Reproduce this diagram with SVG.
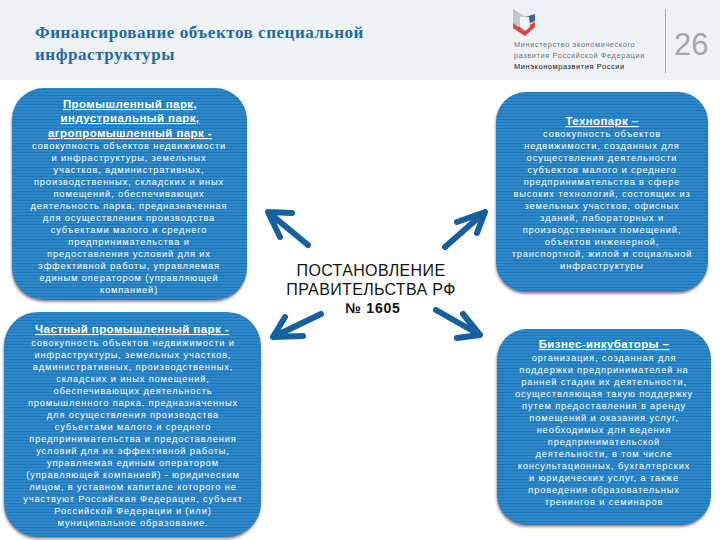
<svg xmlns="http://www.w3.org/2000/svg" width="720" height="540" viewBox="0 0 720 540">
<style>
text{font-family:"Liberation Sans","Noto Sans",sans-serif}
.title{font-family:"Liberation Serif","DejaVu Serif",serif;font-weight:700;font-size:17px;fill:#1f6aa3;letter-spacing:.55px}
.b{font-size:9.3px;fill:#fff;text-anchor:middle;letter-spacing:.85px}
.h{font-size:11.5px;font-weight:700;fill:#fff;text-anchor:middle;text-decoration:underline;letter-spacing:.4px}
.box{fill:url(#stripes);filter:url(#sh)}
.min{font-size:7.4px;fill:#6f7478;letter-spacing:.6px}
.c{font-size:16px;fill:#111;text-anchor:middle;letter-spacing:.35px}
.arr{fill:none;stroke:#15609f;stroke-width:6;stroke-linecap:round;stroke-linejoin:round}
</style>
<defs>
<pattern id="stripes" width="4" height="3" patternUnits="userSpaceOnUse">
<rect width="4" height="3" fill="#2b88cb"/>
<rect y="2" width="4" height="1" fill="#2476b6"/>
</pattern>
<filter id="sh" x="-5%" y="-5%" width="110%" height="112%">
<feDropShadow dx="-0.5" dy="2" stdDeviation="1.2" flood-color="#8a7078" flood-opacity=".8"/>
</filter>
</defs>
<rect width="720" height="540" fill="#fff"/>
<g id="header">
<rect width="720" height="80" fill="#eef2f5"/>
<text class="title" x="35" y="38">Финансирование объектов специальной</text>
<text class="title" x="35" y="60">инфраструктуры</text>
<path d="M513 9L526 17L535 14V27L525 36L513 28Z" fill="#c4c8cb"/>
<path d="M522 18L535 14V21L524 25Z" fill="#3a63a8"/>
<path d="M513 23L518 27L532 24L535 22V27L525 36L513 28Z" fill="#d9473f"/>
<path d="M520 17L529 17L530 27L525 31L520 27Z" fill="#f3f5f6"/>
<text class="min" x="514" y="47">Министерство экономического</text>
<text class="min" x="514" y="58">развития Российской Федерации</text>
<text class="min" x="514" y="69" style="fill:#111">Минэкономразвития России</text>
<rect x="665" y="9" width="1" height="64" fill="#a9adb0"/>
<text x="674" y="55" style="font-size:31px;fill:#a3a7aa">26</text>
</g>
<g id="connectors">
<path class="arr" d="M308 245L268 212M292 213L268 212L280 237"/>
<path class="arr" d="M445 247L485 212M457 222L485 212L477 233"/>
<path class="arr" d="M321 314L273 337M285 317L273 337L303 336"/>
<path class="arr" d="M436 310L480 335M463 314L480 335L457 338"/>
</g>
<g id="node-center">
<text class="c" x="371" y="276">ПОСТАНОВЛЕНИЕ</text>
<text class="c" x="371" y="295">ПРАВИТЕЛЬСТВА РФ</text>
<text class="c" x="373" y="313" style="font-size:14px;font-weight:700;letter-spacing:.8px">№ 1605</text>
</g>
<g id="node-industrial">
<rect class="box" x="12" y="88" width="235" height="212" rx="32"/>
<text class="h" x="130" y="108">Промышленный парк,</text>
<text class="h" x="130" y="122">индустриальный парк,</text>
<text class="h" x="130" y="137">агропромышленный парк -</text>
<text class="b" x="129" y="149">совокупность объектов недвижимости</text>
<text class="b" x="129" y="161">и инфраструктуры, земельных</text>
<text class="b" x="129" y="173">участков, административных,</text>
<text class="b" x="129" y="185">производственных, складских и иных</text>
<text class="b" x="129" y="197">помещений, обеспечивающих</text>
<text class="b" x="129" y="209">деятельность парка, предназначенная</text>
<text class="b" x="129" y="221">для осуществления производства</text>
<text class="b" x="129" y="233">субъектами малого и среднего</text>
<text class="b" x="129" y="245">предпринимательства и</text>
<text class="b" x="129" y="257">предоставления условий для их</text>
<text class="b" x="129" y="269">эффективной работы, управляемая</text>
<text class="b" x="129" y="281">единым оператором (управляющей</text>
<text class="b" x="129" y="293">компанией)</text>
</g>
<g id="node-private">
<rect class="box" x="4" y="312" width="257" height="225" rx="34"/>
<text class="h" x="132" y="333">Частный промышленный парк -</text>
<text class="b" x="133" y="346">совокупность объектов недвижимости и</text>
<text class="b" x="133" y="358">инфраструктуры, земельных участков,</text>
<text class="b" x="133" y="370">административных, производственных,</text>
<text class="b" x="133" y="382">складских и иных помещений,</text>
<text class="b" x="133" y="394">обеспечивающих деятельность</text>
<text class="b" x="133" y="406">промышленного парка, предназначенных</text>
<text class="b" x="133" y="418">для осуществления производства</text>
<text class="b" x="133" y="430">субъектами малого и среднего</text>
<text class="b" x="133" y="442">предпринимательства и предоставления</text>
<text class="b" x="133" y="454">условий для их эффективной работы,</text>
<text class="b" x="133" y="466">управляемая единым оператором</text>
<text class="b" x="133" y="478">(управляющей компанией) - юридическим</text>
<text class="b" x="133" y="490">лицом, в уставном капитале которого не</text>
<text class="b" x="133" y="502">участвуют Российская Федерация, субъект</text>
<text class="b" x="133" y="514">Российской Федерации и (или)</text>
<text class="b" x="133" y="526">муниципальное образование.</text>
</g>
<g id="node-technopark">
<rect class="box" x="496" y="92" width="212" height="200" rx="30"/>
<text class="h" x="602" y="125">Технопарк –</text>
<text class="b" x="602" y="137">совокупность объектов</text>
<text class="b" x="602" y="149">недвижимости, созданных для</text>
<text class="b" x="602" y="161">осуществления деятельности</text>
<text class="b" x="602" y="173">субъектов малого и среднего</text>
<text class="b" x="602" y="185">предпринимательства в сфере</text>
<text class="b" x="602" y="197">высоких технологий, состоящих из</text>
<text class="b" x="602" y="209">земельных участков, офисных</text>
<text class="b" x="602" y="221">зданий, лабораторных и</text>
<text class="b" x="602" y="233">производственных помещений,</text>
<text class="b" x="602" y="245">объектов инженерной,</text>
<text class="b" x="602" y="257">транспортной, жилой и социальной</text>
<text class="b" x="602" y="269">инфраструктуры</text>
</g>
<g id="node-incubator">
<rect class="box" x="497" y="329" width="214" height="196" rx="30"/>
<text class="h" x="604" y="348">Бизнес-инкубаторы –</text>
<text class="b" x="604" y="361">организация, созданная для</text>
<text class="b" x="604" y="373">поддержки предпринимателей на</text>
<text class="b" x="604" y="385">ранней стадии их деятельности,</text>
<text class="b" x="604" y="397">осуществляющая такую поддержку</text>
<text class="b" x="604" y="409">путем предоставления в аренду</text>
<text class="b" x="604" y="421">помещений и оказания услуг,</text>
<text class="b" x="604" y="433">необходимых для ведения</text>
<text class="b" x="604" y="445">предпринимательской</text>
<text class="b" x="604" y="457">деятельности, в том числе</text>
<text class="b" x="604" y="469">консультационных, бухгалтерских</text>
<text class="b" x="604" y="481">и юридических услуг, а также</text>
<text class="b" x="604" y="493">проведения образовательных</text>
<text class="b" x="604" y="505">тренингов и семинаров</text>
</g>
</svg>
